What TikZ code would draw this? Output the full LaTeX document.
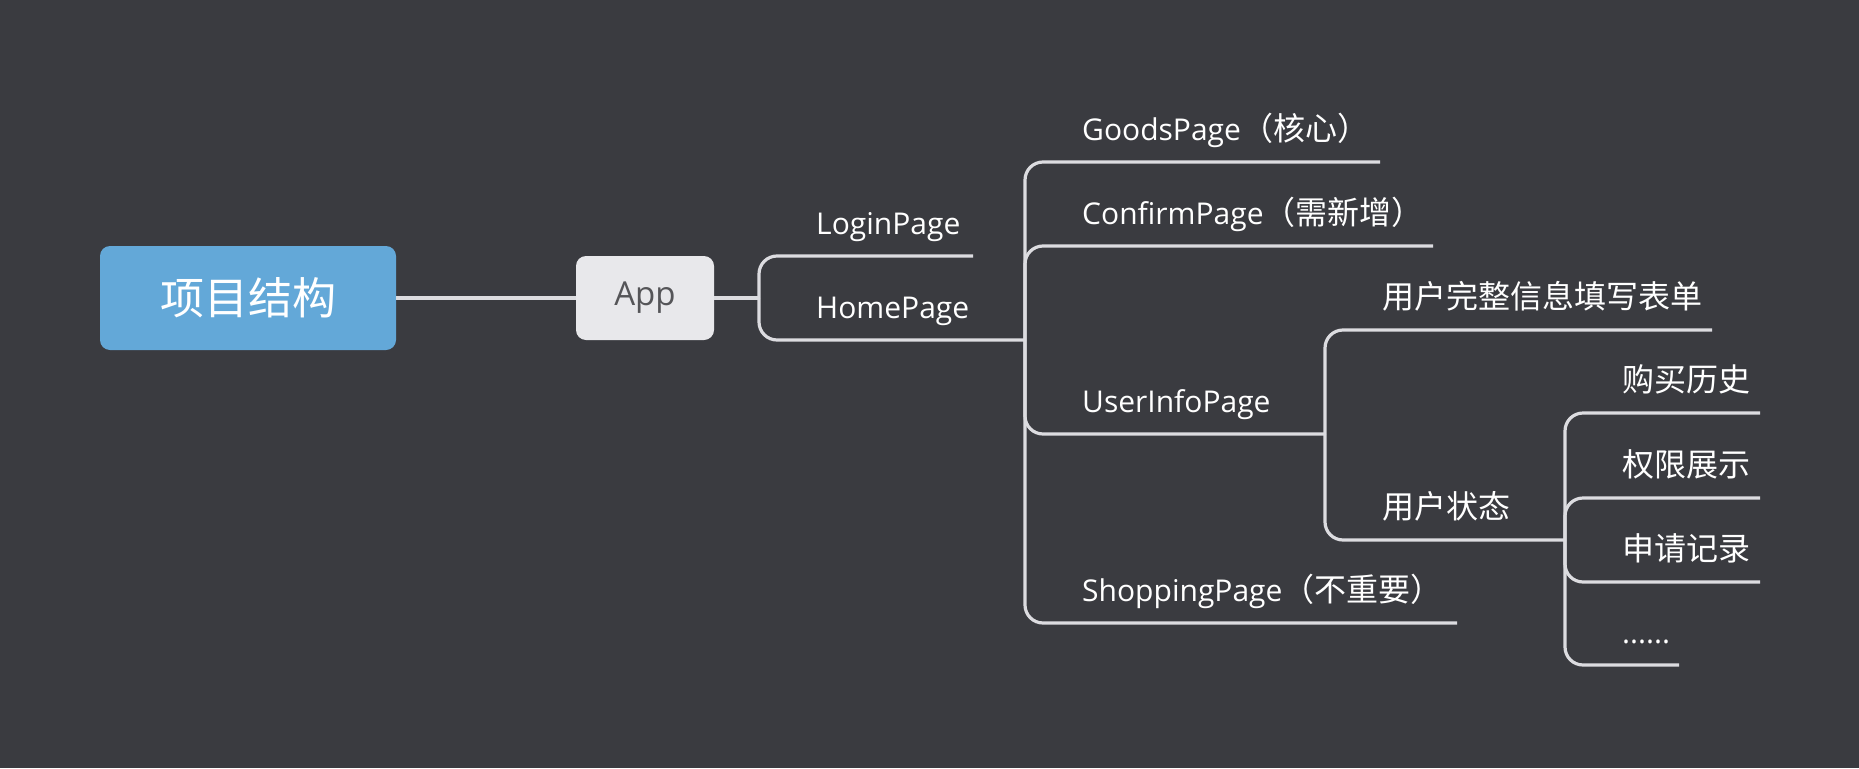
\documentclass[tikz,border=0pt]{standalone}
\usepackage{fontspec}
\setmainfont{Open Sans}
\newfontfamily\cjkfam{Noto Sans CJK SC}
\newcommand{\cjk}[1]{{\cjkfam\fontsize{32}{38}\selectfont #1}}
\definecolor{bgc}{RGB}{58,59,64}
\definecolor{linec}{RGB}{220,220,224}
\definecolor{rootc}{RGB}{99,168,216}
\definecolor{appc}{RGB}{232,232,235}
\definecolor{apptext}{RGB}{85,85,88}
\tikzset{
  conn/.style={draw=linec, line width=3.2pt, rounded corners=18pt},
  straight/.style={draw=linec, line width=3.2pt},
  topic/.style={anchor=base west, text=white, inner sep=0pt, font=\fontsize{30}{36}\selectfont},
}
\begin{document}
\begin{tikzpicture}[x=1pt,y=-1pt]
\fill[bgc] (0,0) rectangle (1859,768);
\useasboundingbox (0,0) rectangle (1859,768);

% central topics
\node[fill=rootc, rounded corners=10pt, minimum width=296pt, minimum height=104pt, inner sep=0pt,
      text=white] (root) at (248,298) {{\cjkfam\fontsize{44}{50}\selectfont 项目结构}};
\node[fill=appc, rounded corners=10pt, minimum width=138pt, minimum height=84pt, inner sep=0pt,
      text=apptext, font=\fontsize{33}{40}\selectfont] (app) at (645,298) {App};

% bracket points
\coordinate (b1) at (759,298);
\coordinate (b2) at (1025,340);
\coordinate (b3) at (1325,434);
\coordinate (b4) at (1565,540);

% line ends
\coordinate (loginE) at (973,256);
\coordinate (goodsE) at (1380,162);
\coordinate (confirmE) at (1433,246);
\coordinate (shopE) at (1457,623);
\coordinate (formE) at (1712,330);
\coordinate (buyE) at (1760,413);
\coordinate (permE) at (1760,498);
\coordinate (applyE) at (1760,582);
\coordinate (moreE) at (1679,665);

% texts
\node[topic] (login) at (816,234) {LoginPage};
\node[topic] (home) at (816,318) {HomePage};
\node[topic] (goods) at (1082,140) {GoodsPage\cjk{（核心）}};
\node[topic] (confirm) at (1082,224) {ConfirmPage\cjk{（需新增）}};
\node[topic] (userinfo) at (1082,412) {UserInfoPage};
\node[topic] (shop) at (1082,601) {ShoppingPage\cjk{（不重要）}};
\node[topic] (form) at (1382,308) {\cjk{用户完整信息填写表单}};
\node[topic] (state) at (1382,518) {\cjk{用户状态}};
\node[topic] (buy) at (1622,391) {\cjk{购买历史}};
\node[topic] (perm) at (1622,476) {\cjk{权限展示}};
\node[topic] (apply) at (1622,560) {\cjk{申请记录}};
\node[topic] (more) at (1622,643) {......};

% connectors
\draw[straight] (root.east) -- (app.west);
\draw[straight] (app.east) -- (b1);
\draw[conn] (b1) |- (loginE);
\draw[conn] (b1) |- (b2);
\draw[conn] (b2) |- (goodsE);
\draw[conn] (b2) |- (confirmE);
\draw[conn] (b2) |- (b3);
\draw[conn] (b2) |- (shopE);
\draw[conn] (b3) |- (formE);
\draw[conn] (b3) |- (b4);
\draw[conn] (b4) |- (buyE);
\draw[conn] (b4) |- (permE);
\draw[conn] (b4) |- (applyE);
\draw[conn] (b4) |- (moreE);
\end{tikzpicture}
\end{document}
